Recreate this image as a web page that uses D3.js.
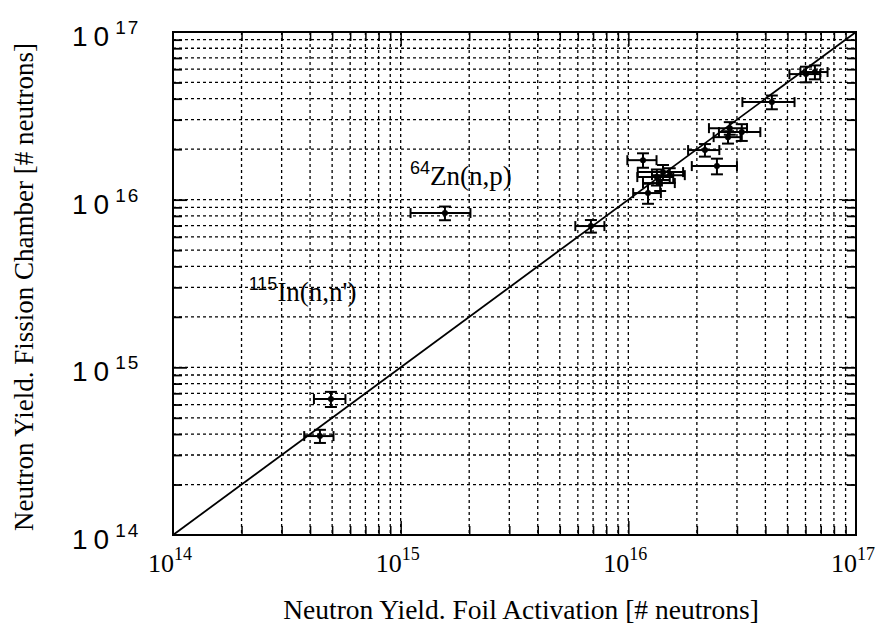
<!DOCTYPE html>
<html>
<head>
<meta charset="utf-8">
<script src="https://cdn.jsdelivr.net/npm/d3@7"></script>
<style>
	body { margin: 0; background: #fff; }
	svg { display: block; }
</style>
</head>
<body>
<div id="chart"></div>
<script>
// Foil activation yield (x) vs fission chamber yield (y), with errors
const foilYield = [4.42e14, 4.94e14, 1.565e15, 6.85e15, 1.16e16, 1.22e16, 1.335e16, 1.42e16, 1.52e16, 1.38e16, 2.17e16, 2.45e16, 2.79e16, 3.15e16, 2.74e16, 4.27e16, 6.03e16, 6.6e16];
const foilErr   = [0.65e14, 0.78e14, 0.46e15, 1.0e15, 0.17e16, 0.17e16, 0.24e16, 0.32e16, 0.25e16, 0.22e16, 0.34e16, 0.55e16, 0.53e16, 0.65e16, 0.37e16, 1.1e16, 0.93e16, 0.9e16];
const fissionYield = [3.89e14, 6.47e14, 8.32e15, 6.96e15, 1.72e16, 1.095e16, 1.364e16, 1.46e16, 1.40e16, 1.256e16, 1.976e16, 1.586e16, 2.67e16, 2.53e16, 2.36e16, 3.82e16, 5.61e16, 5.77e16];
const fissionErr   = [0.35e14, 0.67e14, 0.78e15, 0.6e15, 0.17e16, 0.15e16, 0.15e16, 0.15e16, 0.14e16, 0.13e16, 0.17e16, 0.17e16, 0.23e16, 0.29e16, 0.2e16, 0.36e16, 0.6e16, 0.55e16];

const decades = [14, 15, 16, 17];
const labels = [
	{iso: "115", text: "In(n,n')", x: 2.15e14, y: 2.5e15},
	{iso: "64", text: "Zn(n,p)", x: 1.1e15, y: 1.22e16}
];

const W = 887, H = 628;
const plot = {left: 173, right: 856, top: 32, bottom: 535};

const svg = d3.select("#chart")
	.append("svg")
	.attr("width", W)
	.attr("height", H);

let x = d3.scaleLog().domain([1e14, 1e17]).range([plot.left, plot.right]);
let y = d3.scaleLog().domain([1e14, 1e17]).range([plot.bottom, plot.top]);

// all ticks 1..9 per decade
let allTicks = [];
decades.slice(0, 3).forEach(e => {
	for (let m = 1; m <= 9; m++) allTicks.push(m * Math.pow(10, e));
});
allTicks.push(1e17);
const minor = allTicks.filter(t => t > 1e14 && t < 1e17);

// dotted grid
svg.append("g")
	.selectAll("line")
	.data(minor)
	.enter().append("line")
	.attr("x1", d => x(d)).attr("x2", d => x(d))
	.attr("y1", plot.top).attr("y2", plot.bottom)
	.attr("stroke", "#000").attr("stroke-width", 1.3)
	.attr("stroke-dasharray", "3,3");
svg.append("g")
	.selectAll("line")
	.data(minor)
	.enter().append("line")
	.attr("y1", d => y(d)).attr("y2", d => y(d))
	.attr("x1", plot.left).attr("x2", plot.right)
	.attr("stroke", "#000").attr("stroke-width", 1.3)
	.attr("stroke-dasharray", "3,3");

// inward ticks on all sides
const isMajor = d => Math.abs(Math.log10(d) - Math.round(Math.log10(d))) < 1e-9;
const tickLen = d => isMajor(d) ? 14 : 9;
svg.append("g").attr("transform", "translate(0," + plot.bottom + ")")
	.call(d3.axisBottom(x).tickValues(minor).tickFormat(""))
	.call(g => g.select(".domain").remove())
	.selectAll("line").attr("y2", d => -tickLen(d)).attr("stroke-width", 1.5);
svg.append("g").attr("transform", "translate(0," + plot.top + ")")
	.call(d3.axisTop(x).tickValues(minor).tickFormat(""))
	.call(g => g.select(".domain").remove())
	.selectAll("line").attr("y2", d => tickLen(d)).attr("stroke-width", 1.5);
svg.append("g").attr("transform", "translate(" + plot.left + ",0)")
	.call(d3.axisLeft(y).tickValues(minor).tickFormat(""))
	.call(g => g.select(".domain").remove())
	.selectAll("line").attr("x2", d => tickLen(d)).attr("stroke-width", 1.8);
svg.append("g").attr("transform", "translate(" + plot.right + ",0)")
	.call(d3.axisRight(y).tickValues(minor).tickFormat(""))
	.call(g => g.select(".domain").remove())
	.selectAll("line").attr("x2", d => -tickLen(d)).attr("stroke-width", 1.8);

// frame
svg.append("rect")
	.attr("x", plot.left).attr("y", plot.top)
	.attr("width", plot.right - plot.left).attr("height", plot.bottom - plot.top)
	.attr("fill", "none").attr("stroke", "#000").attr("stroke-width", 2);

// y = x reference line
svg.append("line")
	.attr("x1", x(1e14)).attr("y1", y(1e14))
	.attr("x2", x(1e17)).attr("y2", y(1e17))
	.attr("stroke", "#000").attr("stroke-width", 1.8);

// x tick labels (serif)
let xl = svg.append("g").selectAll("text")
	.data(decades)
	.enter().append("text")
	.attr("x", d => x(Math.pow(10, d)) - 3)
	.attr("y", 572)
	.attr("text-anchor", "middle")
	.attr("font-family", "Liberation Serif, Times New Roman, serif")
	.attr("font-size", 26);
xl.append("tspan").text("10");
xl.append("tspan").attr("dy", -12).attr("font-size", 18).text(d => d);

// y tick labels (sans, spaced out)
let yl = svg.append("g").selectAll("text")
	.data(decades)
	.enter().append("text")
	.attr("x", 72)
	.attr("y", d => y(Math.pow(10, d)) + 14)
	.attr("font-family", "Liberation Sans, Arial, sans-serif")
	.attr("font-size", 28);
yl.append("tspan").attr("letter-spacing", 6).text("10");
yl.append("tspan").attr("dy", -12).attr("font-size", 19).attr("letter-spacing", 2).text(d => d);

// axis titles
svg.append("text")
	.attr("x", 521).attr("y", 619)
	.attr("text-anchor", "middle")
	.attr("font-family", "Liberation Serif, Times New Roman, serif")
	.attr("font-size", 27.5)
	.text("Neutron Yield. Foil Activation [# neutrons]");
svg.append("text")
	.attr("transform", "translate(33,287) rotate(-90)")
	.attr("text-anchor", "middle")
	.attr("font-family", "Liberation Serif, Times New Roman, serif")
	.attr("font-size", 27)
	.text("Neutron Yield. Fission Chamber [# neutrons]");

// reaction labels
let rl = svg.append("g").selectAll("text")
	.data(labels)
	.enter().append("text")
	.attr("x", d => x(d.x))
	.attr("y", d => y(d.y))
	.attr("font-family", "Liberation Serif, Times New Roman, serif")
	.attr("font-size", 27);
rl.append("tspan").attr("dy", -11).attr("font-size", 18)
	.attr("font-family", "Liberation Sans, Arial, sans-serif").text(d => d.iso);
rl.append("tspan").attr("dy", 11).text(d => d.text);

// error bars and points
const pts = d3.range(foilYield.length);
const bars = svg.append("g").attr("stroke", "#000").attr("stroke-width", 2);
pts.forEach(i => {
	let cx = x(foilYield[i]), cy = y(fissionYield[i]);
	let x0 = x(foilYield[i] - foilErr[i]), x1 = x(foilYield[i] + foilErr[i]);
	let y0 = y(fissionYield[i] - fissionErr[i]), y1 = y(fissionYield[i] + fissionErr[i]);
	bars.append("line").attr("x1", x0).attr("x2", x1).attr("y1", cy).attr("y2", cy);
	bars.append("line").attr("x1", x0).attr("x2", x0).attr("y1", cy - 5).attr("y2", cy + 5);
	bars.append("line").attr("x1", x1).attr("x2", x1).attr("y1", cy - 5).attr("y2", cy + 5);
	bars.append("line").attr("x1", cx).attr("x2", cx).attr("y1", y0).attr("y2", y1);
	bars.append("line").attr("x1", cx - 6).attr("x2", cx + 6).attr("y1", y0).attr("y2", y0);
	bars.append("line").attr("x1", cx - 6).attr("x2", cx + 6).attr("y1", y1).attr("y2", y1);
});
svg.append("g").selectAll("circle")
	.data(pts)
	.enter().append("circle")
	.attr("cx", i => x(foilYield[i]))
	.attr("cy", i => y(fissionYield[i]))
	.attr("r", 3)
	.attr("fill", "#000");
</script>
</body>
</html>
